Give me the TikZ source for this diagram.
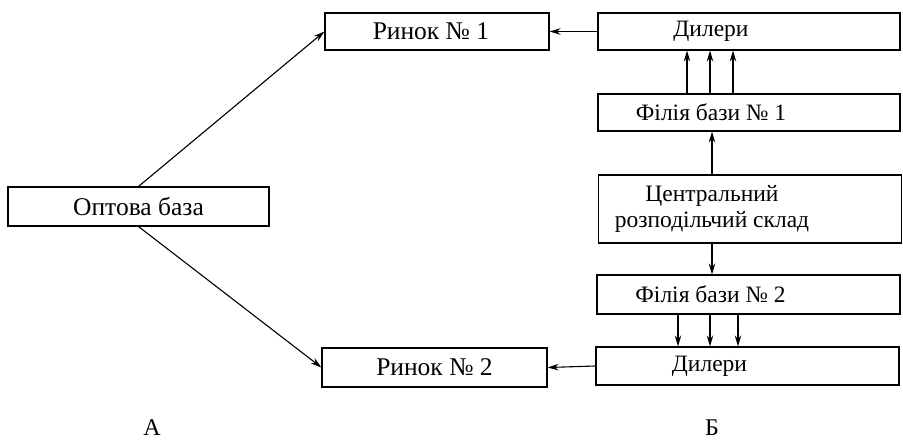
\documentclass[tikz,border=0pt]{standalone}
\usepackage{fontspec}
\setmainfont{Liberation Serif}
\usetikzlibrary{arrows.meta}
\begin{document}
\begin{tikzpicture}[x=1pt,y=-1pt,
  box/.style={draw, line width=1.1pt, inner sep=0pt, align=center,
    font=\fontsize{25.5}{30}\selectfont},
  rbox/.style={draw, line width=1.1pt, inner sep=0pt},
  rtxt/.style={align=center, font=\fontsize{23.5}{26}\selectfont, xshift=-38pt},
  arr/.style={line width=1.1pt, -{Stealth[length=11pt,width=6.5pt]}},
  lbl/.style={font=\fontsize{24}{28}\selectfont}]
  \useasboundingbox (0,0) rectangle (903,441);
  % left: wholesale base and markets
  \node[box, minimum width=261pt, minimum height=39pt] (opt) at (138.5,206.5) {Оптова база};
  \node[box, minimum width=224pt, minimum height=37pt] (r1) at (437,31.5) {\hspace*{-12pt}Ринок № 1};
  \node[box, minimum width=225pt, minimum height=39pt] (r2) at (434.5,367.5) {Ринок № 2};
  % right: distribution chain
  \node[rbox, minimum width=302pt, minimum height=37pt,
    label={[rtxt]center:Дилери}] (d1) at (749,31.5) {};
  \node[rbox, minimum width=302pt, minimum height=37pt,
    label={[rtxt]center:Філія бази № 1}] (f1) at (749,112.5) {};
  \node[rbox, minimum width=303pt, minimum height=68pt,
    label={[rtxt]center:Центральний\\розподільчий склад}] (c) at (750,209) {};
  \node[rbox, minimum width=303pt, minimum height=39pt,
    label={[rtxt]center:Філія бази № 2}] (f2) at (748.5,294.5) {};
  \node[rbox, minimum width=303pt, minimum height=38pt,
    label={[rtxt]center:Дилери}] (d2) at (747.5,366) {};
  % captions
  \node[lbl] (la) at (152,428) {А};
  \node[lbl] (lb) at (712,428) {Б};
  % connectors
  \draw[arr] (opt.north) -- (r1.west);
  \draw[arr] (opt.south) -- (r2.west);
  \draw[arr] (d1.west) -- (r1.east);
  \draw[arr] (d2.west) -- (r2.east);
  \coordinate (cu) at ([xshift=-38pt]c.north);
  \coordinate (cd) at ([xshift=-38pt]c.south);
  \draw[arr] (cu) -- (cu |- f1.south);
  \draw[arr] (cd) -- (cd |- f2.north);
  \foreach \dx [count=\i] in {-62,-39,-16} {
    \coordinate (u\i) at ([xshift=\dx pt]f1.north);
    \draw[arr] (u\i) -- (u\i |- d1.south);
  }
  \foreach \dx [count=\i] in {-70.5,-38.5,-10.5} {
    \coordinate (w\i) at ([xshift=\dx pt]f2.south);
    \draw[arr] (w\i) -- (w\i |- d2.north);
  }
\end{tikzpicture}
\end{document}
